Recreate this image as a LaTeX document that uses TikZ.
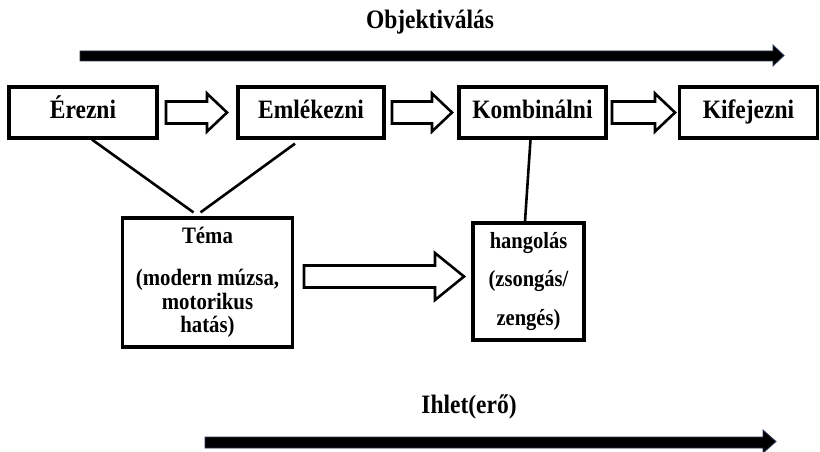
\documentclass[tikz,border=0pt]{standalone}
\usepackage{fontspec}
\usepackage{graphicx}
\setmainfont{Liberation Serif}
\usetikzlibrary{calc}
\definecolor{navyedge}{RGB}{40,55,85}
\newcommand{\tallt}[1]{\scalebox{1}[1.13]{#1}}
\tikzset{
  topbox/.style={draw, line width=3.2pt, minimum height=51pt, inner sep=2pt,
    font=\fontsize{23.5}{28}\selectfont\bfseries, text height=17pt, text depth=5.5pt},
  lowbox/.style={draw, line width=3.2pt, inner sep=2pt, align=center},
  hollow/.style={draw, line width=2.6pt, fill=white, line join=miter},
  bigarr/.style={fill=black, draw=navyedge, line width=0.8pt},
  link/.style={draw, line width=2.6pt},
  title/.style={font=\fontsize{23.5}{28}\selectfont\bfseries}
}
\newcommand{\hollowarr}[6]{%
  \draw[hollow] (#1,#3-#4) -- (#2-#6,#3-#4) -- (#2-#6,#3-#5) -- (#2,#3)
    -- (#2-#6,#3+#5) -- (#2-#6,#3+#4) -- (#1,#3+#4) -- cycle;}
\begin{document}
\begin{tikzpicture}[x=1pt,y=-1pt]
\useasboundingbox (0,0) rectangle (820,452);

% titles
\node[title] (obj) at (430,22) {\tallt{Objektiválás}};
\node[title] (ihlet) at (469,407) {\tallt{Ihlet(erő)}};

% big black arrows
\draw[bigarr] (80,51) -- (773,51) -- (773,45) -- (784,55.5) -- (773,66) -- (773,61) -- (80,61) -- cycle;
\draw[bigarr] (205,437) -- (763,437) -- (763,430) -- (776,441.5) -- (763,453) -- (763,448) -- (205,448) -- cycle;

% top boxes
\node[topbox, minimum width=148pt] (erezni) at (83,112.5) {\tallt{Érezni}};
\node[topbox, minimum width=146pt] (emlek) at (311,112.5) {\tallt{Emlékezni}};
\node[topbox, minimum width=147pt] (kombi) at (532.5,112.5) {\tallt{Kombinálni}};
\node[topbox, minimum width=138pt] (kife) at (748.5,112.5) {\tallt{Kifejezni}};

% hollow arrows between top boxes
\hollowarr{166}{227}{112.5}{11}{19}{20}
\hollowarr{392}{452}{112.5}{11}{19}{20}
\hollowarr{612}{675}{112.5}{11}{19}{20}

% lower boxes
\node[lowbox, minimum width=170pt, minimum height=129pt,
  font=\fontsize{20.8}{23.5}\selectfont\bfseries] (tema) at (207.5,282.5)
  {\tallt{Téma}\\[19pt]\tallt{(modern múzsa,}\\\tallt{motorikus}\\\tallt{hatás)}};
\node[lowbox, minimum width=111pt, minimum height=117pt,
  font=\fontsize{20.5}{38.5}\selectfont\bfseries] (hang) at (528.5,281.5)
  {\tallt{hangolás}\\\tallt{(zsongás/}\\\tallt{zengés)}};

% big hollow arrow between lower boxes
\hollowarr{304}{464}{276.5}{11}{23.5}{29}

% connecting lines
\draw[link] ([xshift=9pt]erezni.south) -- ([xshift=-14pt,yshift=4pt]tema.north);
\draw[link] ([xshift=-16pt,yshift=-4pt]emlek.south) -- ([xshift=-7pt,yshift=4pt]tema.north);
\draw[link] ([xshift=-2pt]kombi.south) -- ([xshift=-3.5pt]hang.north);
\end{tikzpicture}
\end{document}
